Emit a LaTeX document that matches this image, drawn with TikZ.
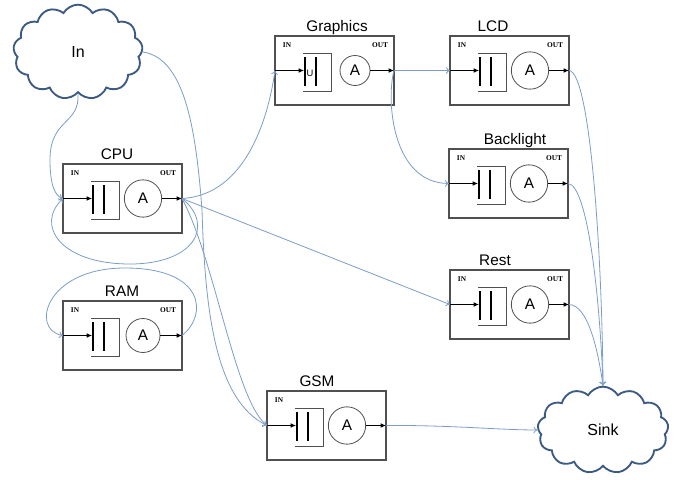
\documentclass[tikz,border=0pt]{standalone}
\usepackage{fontspec}
\setmainfont{Liberation Sans}
\newfontfamily\serifio{Liberation Serif}
\usetikzlibrary{shapes.symbols,arrows.meta}
\definecolor{cloudc}{HTML}{3C5A82}
\definecolor{wirec}{HTML}{7B9DC7}
\definecolor{boxc}{HTML}{505050}
\tikzset{
 blkbox/.style={draw=boxc, line width=0.9pt, minimum width=89.25pt, minimum height=51.75pt, inner sep=0pt, outer sep=0pt},
 iolab/.style={font=\serifio\bfseries\fontsize{5.5}{6}\selectfont, inner sep=0pt},
 ttl/.style={font=\fontsize{11.5}{13}\selectfont, inner sep=0pt, anchor=base},
 amp/.style={circle, draw=boxc, line width=0.6pt, font=\fontsize{11.5}{13}\selectfont, inner sep=0pt},
 bar/.style={line width=2pt},
 brk/.style={draw=boxc, line width=0.5pt},
 sig/.style={line width=0.6pt, -{Latex[length=4pt,width=3.5pt]}},
 wire/.style={draw=wirec, line width=0.6pt, -{To[length=3pt,width=5pt]}},
 cloudsty/.style={cloud, cloud puffs=13, cloud puff arc=120, aspect=1.4, draw=cloudc, line width=1.4pt, inner sep=0pt, font=\fontsize{12}{14}\selectfont},
}
% name, x0, y0, title, title x, showout, circle size
\newcommand{\blk}[7]{%
 \begin{scope}[shift={(#2,#3)}]
   \node[blkbox] (#1) at (59.5,34.5) {};
   \node[ttl] (#1-t) at (#5,-5) {#4};
   \node[iolab] (#1-i) at (12,9) {IN};
   \ifnum#6=1 \node[iolab] (#1-o) at (105,9) {OUT};\fi
   \draw[brk] (28,17) -- (56,17) -- (56,55) -- (28,55);
   \draw[bar] (30,21) -- (30,50);
   \draw[bar] (41,21) -- (41,50);
   \node[amp, minimum size=#7] (#1-a) at (80,34.5) {A};
   \draw[sig] (#1.west) -- (29,34.5);
   \draw[sig] (#1-a.east) -- (#1.east);
 \end{scope}
}
\begin{document}
\begin{tikzpicture}[x=0.75pt, y=-0.75pt]
\useasboundingbox (0,0) rectangle (677,479);

\blk{cpu}{63}{164}{CPU}{54}{1}{28pt}
\blk{ram}{63}{301}{RAM}{59}{1}{25.5pt}
\blk{gsm}{267}{391}{GSM}{50}{0}{28pt}
\blk{gfx}{275}{36}{Graphics}{62}{1}{22.5pt}
\blk{lcd}{450}{36}{LCD}{43}{1}{28pt}
\blk{bkl}{449}{149}{Backlight}{66}{1}{28pt}
\blk{rest}{450}{270}{Rest}{45}{1}{28pt}
\node[font=\fontsize{7}{8}\selectfont, inner sep=0pt] (gfx-u) at (310,73) {U};

\node[cloudsty, minimum width=97pt, minimum height=71pt] (in) at (78,52) {In};
\node[cloudsty, minimum width=98pt, minimum height=65pt] (sink) at (603,430) {Sink};

% connectors
\draw[wire] (in.south) .. controls (80,125) and (50,118) .. (50,160) .. controls (50,185) and (55,196) .. (cpu.west);
\draw[wire] (in.east) .. controls (185,58) and (196,130) .. (202,210) .. controls (205,310) and (215,400) .. (gsm.west);
\draw[wire] (cpu.east) .. controls (215,260) and (235,400) .. (gsm.west);
\draw[wire] (cpu.east) .. controls (245,195) and (268,120) .. (gfx.west);
\draw[wire] (cpu.east) -- (rest.west);
\draw[wire] (cpu.east) .. controls (215,225) and (195,264) .. (130,264) .. controls (60,264) and (35,225) .. (cpu.west);
\draw[wire] (ram.east) .. controls (208,315) and (205,268) .. (125,268) .. controls (45,268) and (30,330) .. (ram.west);
\draw[wire] (gfx.east) -- (lcd.west);
\draw[wire] (gfx.east) .. controls (386,100) and (392,183) .. (bkl.west);
\draw[wire] (lcd.east) .. controls (590,72) and (602,250) .. (sink.north);
\draw[wire] (bkl.east) .. controls (588,185) and (600,300) .. (sink.north);
\draw[wire] (rest.east) .. controls (588,305) and (598,350) .. (sink.north);
\draw[wire] (gsm.east) .. controls (450,425) and (500,430) .. (sink.west);
\end{tikzpicture}
\end{document}
